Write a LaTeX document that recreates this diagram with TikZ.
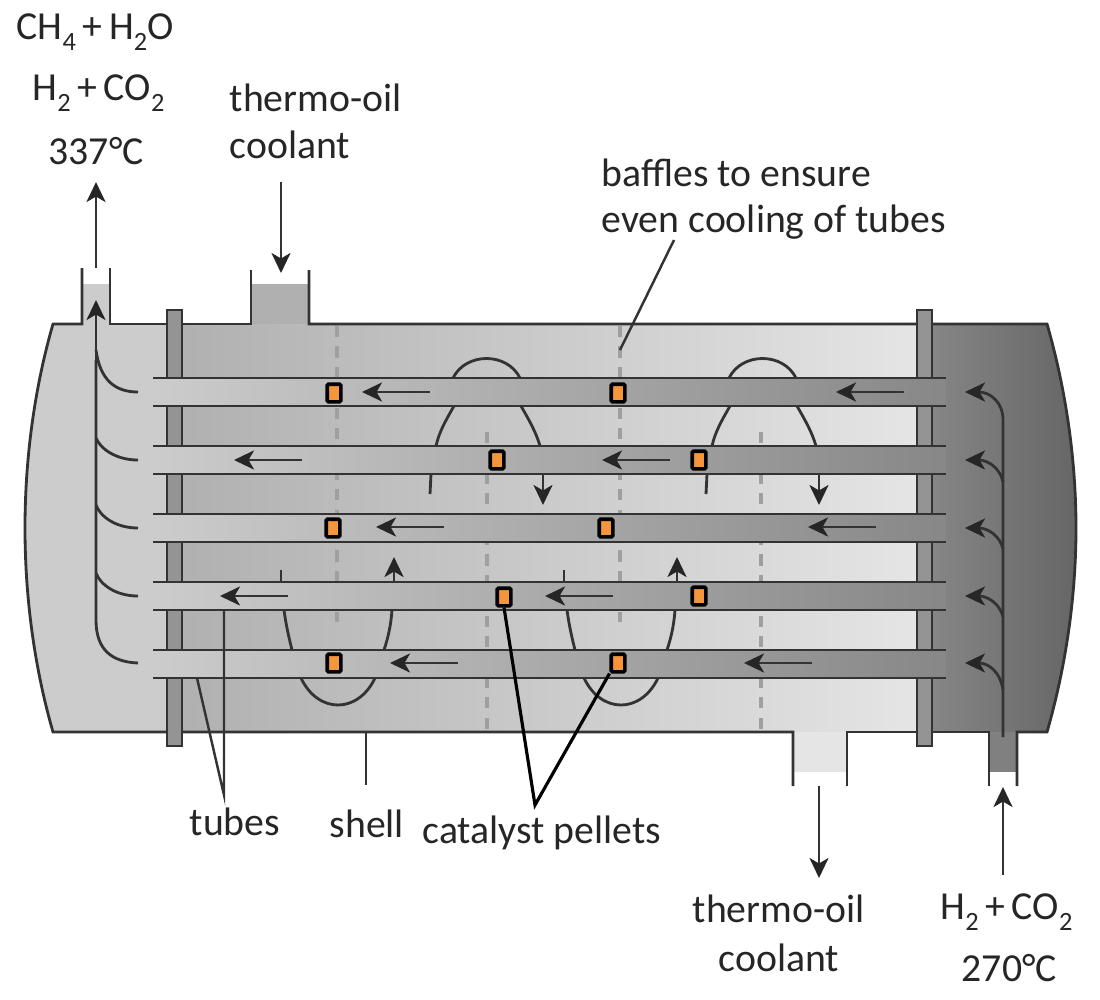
\documentclass[tikz,border=0pt]{standalone}
\usepackage{fontspec}
\setmainfont{Carlito}
\usetikzlibrary{arrows.meta}
\definecolor{headleft}{gray}{0.80}
\definecolor{shellleft}{gray}{0.69}
\definecolor{shellright}{gray}{0.90}
\definecolor{tubemid}{gray}{0.69}
\definecolor{headright}{gray}{0.53}
\definecolor{headmid}{gray}{0.50}
\definecolor{headedge}{gray}{0.40}
\definecolor{sheetgray}{gray}{0.58}
\definecolor{linegray}{gray}{0.20}
\definecolor{pelletorange}{RGB}{245,150,60}
\newcommand{\lowdig}[1]{\raisebox{-3pt}{\fontsize{7.5}{8}\selectfont #1}}
\tikzset{
    >={Stealth[length=0.2cm, width=0.19cm, inset=0.055cm, color=black!85]}, % barbed arrow heads
    wall/.style={draw=linegray, line width=0.8pt}, % outlines of shell, heads and tubes
    flow/.style={draw=linegray, line width=0.8pt, ->}, % flow arrows
    leader/.style={draw=linegray, line width=0.7pt}, % lines from the labels
    baffle/.style={draw=gray!75, line width=1.4pt, dash pattern=on 3.2pt off 2.6pt}, % baffles behind the tubes
    tubefill/.style={left color=headleft, middle color=tubemid, right color=headright}, % gas inside the tubes
    pellet/.style={draw=black, line width=1pt, fill=pelletorange, minimum width=0.135cm, minimum height=0.175cm, inner sep=0pt, rounded corners=0.3pt}, % catalyst
    lab/.style={inner sep=0pt, font=\fontsize{11.3}{13}\selectfont, text=black!85}, % text
}

\begin{document}
\begin{tikzpicture}[x=0.01cm, y=-0.01cm]
    \useasboundingbox (0,0) rectangle (1100,1000);
    % fills
    \fill[headleft] (53,324) .. controls (34,390) and (25,460) .. (25,528) .. controls (25,596) and (34,666) .. (53,732) -- (175,732) -- (175,324) -- cycle;
    \fill[headleft] (83,284) rectangle (110,324);
    \shade[left color=shellleft, right color=shellright] (175,324) rectangle (925,732);
    \fill[shellleft] (251,284) rectangle (309,324);
    \fill[shellright] (793,732) rectangle (847,772);
    \shade[left color=headright, middle color=headmid, right color=headedge] (925,324) -- (1047,324) .. controls (1066,390) and (1076,460) .. (1076,528) .. controls (1076,596) and (1066,666) .. (1047,732) -- (925,732) -- cycle;
    \fill[headmid] (989,732) rectangle (1017,772);
    % outline
    \draw[wall] (82,268) -- (82,324) -- (53,324) .. controls (34,390) and (25,460) .. (25,528) .. controls (25,596) and (34,666) .. (53,732) -- (793,732) -- (793,786);
    \draw[wall] (110,268) -- (110,324) -- (251,324) -- (251,270);
    \draw[wall] (309,270) -- (309,324) -- (1047,324) .. controls (1066,390) and (1076,460) .. (1076,528) .. controls (1076,596) and (1066,666) .. (1047,732) -- (1017,732) -- (1017,786);
    \draw[wall] (847,786) -- (847,732) -- (989,732) -- (989,786);
    % baffles
    \draw[baffle] (337,326) -- (337,622);
    \draw[baffle] (620,326) -- (620,622);
    \draw[baffle] (487,432) -- (487,730);
    \draw[baffle] (761,432) -- (761,730);
    % tube sheets
    \foreach \x in {167,917}
        \draw[wall, fill=sheetgray] (\x,310) rectangle (\x+15,746);
    % tubes
    \foreach \y in {378,446,514,582,650} {
        \shade[tubefill] (153,\y) rectangle (946,\y+28);
        \draw[wall] (153,\y) -- (946,\y);
        \draw[wall] (153,\y+28) -- (946,\y+28);
    }
    % shell side flow
    \foreach \d in {0,276} {
        \draw[wall] (453+\d,378) .. controls (466+\d,352) and (507+\d,352) .. (520+\d,378);
        \draw[wall] (454+\d,406) .. controls (446+\d,420) and (439+\d,432) .. (436+\d,446);
        \draw[wall] (521+\d,406) .. controls (529+\d,420) and (536+\d,432) .. (540+\d,446);
        \draw[wall] (431+\d,474) -- (430+\d,494);
        \draw[flow] (543+\d,474) -- (543+\d,505);
    }
    \foreach \d in {0,283} {
        \draw[wall] (281+\d,570) -- (281+\d,582);
        \draw[wall] (284+\d,610) .. controls (286+\d,625) and (289+\d,638) .. (292+\d,650);
        \draw[wall] (392+\d,610) .. controls (391+\d,625) and (388+\d,638) .. (384+\d,650);
        \draw[wall] (301+\d,678) .. controls (318+\d,714) and (358+\d,714) .. (375+\d,678);
        \draw[flow] (394+\d,582) -- (394+\d,557);
    }
    % flow inside the tubes
    \foreach \x/\y in {430/392,904/392,302/460,670/460,444/527,876/527,288/596,613/596,458/663,812/663}
        \draw[flow] (\x,\y) -- (\x-68,\y);
    % collectors
    \draw[flow] (96,360) -- (96,300);
    \draw[wall] (138,663) .. controls (112,662) and (96,650) .. (96,620) -- (96,360);
    \foreach \y/\e in {392/350,460/438,528/505,596/573}
        \draw[wall] (138,\y) .. controls (115,\y) and (100,\y-12) .. (96,\e);
    \draw[flow] (1003,737) -- (1003,420) .. controls (1003,402) and (990,392) .. (965,392);
    \foreach \y/\e in {460/482,528/549,596/617,663/690}
        \draw[flow] (1003,\e) .. controls (1000,\y+8) and (988,\y) .. (965,\y);
    % pellets
    \foreach \n/\x/\y in {pa/334/393,pb/618/393,pc/497/460,pd/699/460,pe/333/528,pf/606/528,pg/504/597,ph/699/596,pi/334/663,pj/618/663}
        \node[pellet] (\n) at (\x,\y) {};
    % labels
    \node[lab, anchor=west] (feedA) at (16,32) {CH\lowdig{4}\,+\,H\lowdig{2}O};
    \node[lab, anchor=west] (feedB) at (32,93) {H\lowdig{2}\,+\,CO\lowdig{2}};
    \node[lab, anchor=west] (feedC) at (48,151) {337°C};
    \node[lab, anchor=west] (oilin) at (229,98) {thermo-oil};
    \node[lab, anchor=west] (oilinb) at (229,145) {coolant};
    \node[lab, anchor=west] (baffleA) at (601,173) {baffles to ensure};
    \node[lab, anchor=west] (baffleB) at (601,222) {even cooling of tubes};
    \node[lab, anchor=west] (tubes) at (189,822) {tubes};
    \node[lab, anchor=west] (shell) at (329,824) {shell};
    \node[lab, anchor=west] (pellets) at (422,833) {catalyst pellets};
    \node[lab, anchor=west] (oilout) at (692,909) {thermo-oil};
    \node[lab, anchor=west] (oiloutb) at (718,958) {coolant};
    \node[lab, anchor=west] (gasin) at (940,912) {H\lowdig{2}\,+\,CO\lowdig{2}};
    \node[lab, anchor=west] (gasinb) at (961,968) {270°C};
    % leaders and outer arrows
    \coordinate (tubetip) at (224,795);
    \coordinate (catatip) at (535,805);
    \coordinate (shellend) at (366,732);
    \coordinate (shelltop) at (366,785);
    \coordinate (baffletop) at (674,240);
    \coordinate (bafflepoint) at (620,350);
    \coordinate (tubeA) at (224,610);
    \coordinate (tubeB) at (197,678);
    \draw[leader] (tubeB) -- (tubetip) -- (tubeA);
    \draw[leader] (shellend) -- (shelltop);
    \draw[leader] (baffletop) -- (bafflepoint);
    \draw[leader, draw=black, line width=0.9pt] (pg.south) -- (catatip) -- (pj.south west);
    \coordinate (outA) at (96,268);
    \coordinate (outB) at (96,182);
    \coordinate (inA) at (281,182);
    \coordinate (inB) at (281,273);
    \coordinate (downA) at (819,786);
    \coordinate (downB) at (819,878);
    \coordinate (gasA) at (1003,875);
    \coordinate (gasB) at (1003,787);
    \draw[flow] (outA) -- (outB);
    \draw[flow] (inA) -- (inB);
    \draw[flow] (downA) -- (downB);
    \draw[flow] (gasA) -- (gasB);
\end{tikzpicture}
\end{document}
